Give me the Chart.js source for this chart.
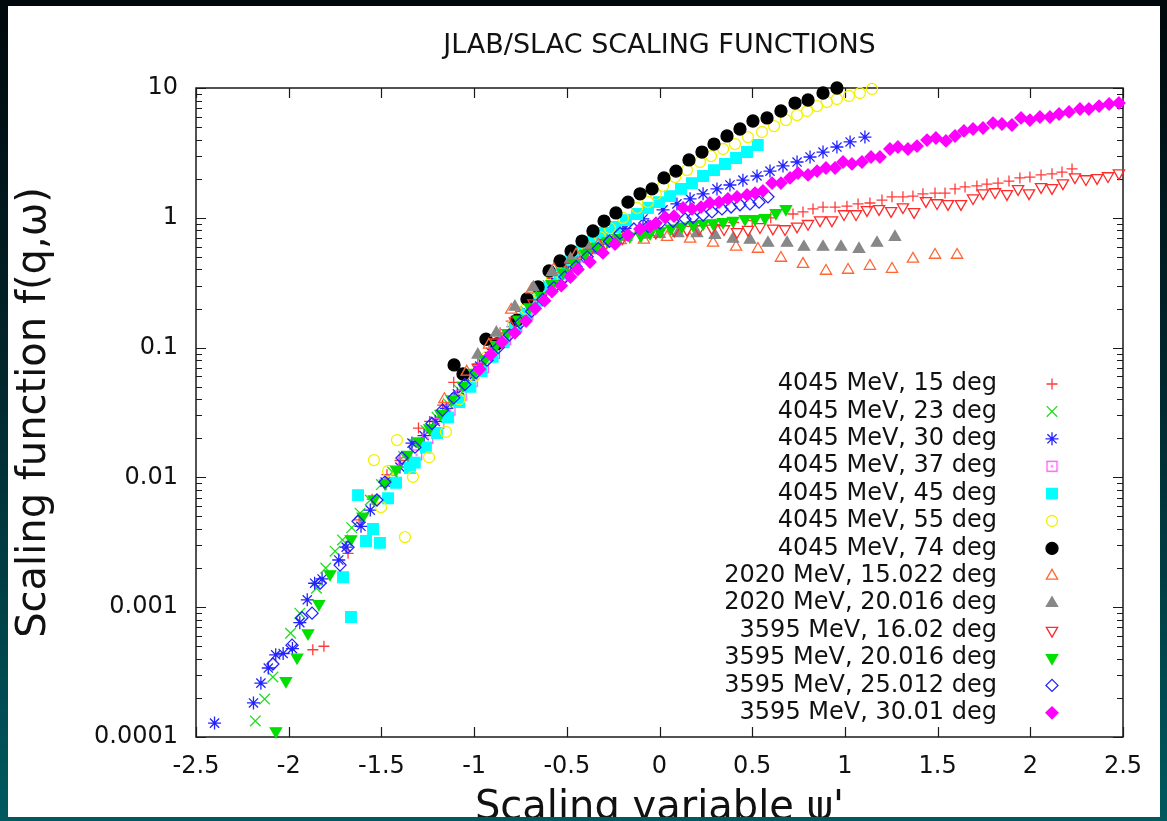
<!DOCTYPE html>
<html><head><meta charset="utf-8">
<script src="https://cdn.jsdelivr.net/npm/chart.js@4.4.1/dist/chart.umd.min.js"></script>
<style>
html,body{margin:0;padding:0;width:1167px;height:821px;overflow:hidden;}
body{background:linear-gradient(180deg,#00080c 0%,#01262c 45%,#005a60 100%);}
#frame{position:absolute;left:8px;top:6px;width:1152px;height:811px;overflow:hidden;background:#fff;}
#c{position:absolute;left:-8px;top:-6px;}
</style></head><body>
<div id="frame"><canvas id="c" width="1167" height="850"></canvas></div>
<script>
// ---------- axis ticks ----------
const xTickValues = [-2.5,-2,-1.5,-1,-0.5,0,0.5,1,1.5,2,2.5];
const xTickLabels = ['-2.5','-2','-1.5','-1','-0.5','0','0.5','1','1.5','2','2.5'];
const yDecades = [0.0001,0.001,0.01,0.1,1,10];
const yTickLabels = ['0.0001','0.001','0.01','0.1','1','10'];

// ---------- series labels ----------
const seriesLabels = [
  '4045 MeV, 15 deg','4045 MeV, 23 deg','4045 MeV, 30 deg','4045 MeV, 37 deg',
  '4045 MeV, 45 deg','4045 MeV, 55 deg','4045 MeV, 74 deg',
  '2020 MeV, 15.022 deg','2020 MeV, 20.016 deg',
  '3595 MeV, 16.02 deg','3595 MeV, 20.016 deg','3595 MeV, 25.012 deg','3595 MeV, 30.01 deg'
];

// ---------- data [psi', f] ----------
const e4045_15 = [[-1.87,0.00047],[-1.81,0.00050],[-1.68,0.0026],[-1.62,0.0047],[-1.55,0.0068],[-1.47,0.0105],[-1.40,0.0135],[-1.30,0.024],[-1.24,0.027],[-1.17,0.036],[-1.11,0.054],[-1.05,0.058],[-0.98,0.075],[-0.92,0.105],[-0.86,0.13],[-0.80,0.16],[-0.75,0.19],[-0.70,0.23],[-0.64,0.28],[-0.58,0.34],[-0.52,0.42],[-0.46,0.50],[-0.40,0.58],[-0.34,0.66],[-0.28,0.72],[-0.20,0.78],[-0.10,0.80],[0.0,0.83],[0.10,0.86],[0.20,0.87],[0.30,0.89],[0.40,0.92],[0.50,0.95],[0.60,1.0],
  [0.720,1.07],[0.774,1.11],[0.828,1.17],[0.882,1.21],[0.947,1.21],[1.011,1.23],[1.071,1.28],[1.135,1.30],[1.200,1.37],[1.254,1.45],[1.313,1.45],[1.367,1.47],[1.421,1.53],[1.486,1.55],[1.540,1.55],[1.594,1.67],[1.648,1.73],[1.712,1.76],[1.766,1.82],[1.826,1.85],[1.885,1.92],[1.944,2.03],[1.998,2.06],[2.058,2.14],[2.117,2.18],[2.171,2.25],[2.225,2.38]];
const e4045_23 = [[-2.18,0.000133],[-2.13,0.000196],[-2.085,0.00029],[-1.99,0.00063],[-1.94,0.00090],[-1.85,0.0014],[-1.80,0.0020],[-1.75,0.0027],[-1.71,0.0033],[-1.66,0.0041],[-1.615,0.0053],[-1.56,0.0067],[-1.50,0.0088],[-1.44,0.011],[-1.38,0.0145],[-1.32,0.018],[-1.26,0.023],[-1.20,0.029],[-1.14,0.037],[-1.08,0.047],[-1.02,0.060],[-0.96,0.077],[-0.90,0.097],[-0.84,0.12],[-0.78,0.15],[-0.72,0.19],[-0.66,0.24],[-0.60,0.30],[-0.54,0.37],[-0.48,0.44],[-0.42,0.52],[-0.36,0.59],[-0.30,0.65],[-0.24,0.70]];
const e4045_30 = [[-2.40,0.000128],[-2.19,0.000183],[-2.15,0.00026],[-2.11,0.00034],[-2.07,0.00043],[-2.03,0.00044],[-1.98,0.00048],[-1.94,0.00076],[-1.90,0.00114],[-1.86,0.00153],[-1.82,0.00165],[-1.73,0.00231],[-1.69,0.0029],[-1.61,0.0042],[-1.56,0.0056],[-1.48,0.0092],[-1.40,0.0120],[-1.335,0.0184],[-1.27,0.021],[-1.21,0.027],[-1.15,0.034],[-1.09,0.044],[-1.03,0.056],[-0.97,0.072],[-0.91,0.092],[-0.85,0.115],[-0.79,0.145],[-0.73,0.18],[-0.67,0.225],[-0.61,0.28],[-0.55,0.34],[-0.49,0.41],[-0.43,0.49],[-0.37,0.57],
  [-0.299,0.74],[-0.186,0.83],[-0.089,0.98],[0.019,1.15],[0.094,1.28],[0.165,1.40],[0.235,1.53],[0.310,1.67],[0.380,1.79],[0.450,1.95],[0.526,2.10],[0.596,2.29],[0.666,2.51],[0.742,2.69],[0.812,2.94],[0.882,3.21],[0.957,3.51],[1.028,3.84],[1.108,4.19]];
const e4045_37 = [[-1.45,0.0095],[-1.38,0.013],[-1.31,0.0149],[-1.25,0.020],[-1.19,0.026],[-1.13,0.033],[-1.07,0.043],[-1.01,0.055],[-0.95,0.07],[-0.89,0.09],[-0.83,0.115],[-0.77,0.145],[-0.71,0.18],[-0.65,0.23],[-0.59,0.28],[-0.53,0.35],[-0.47,0.42],[-0.41,0.50],[-0.35,0.58]];
const e4045_45 = [[-1.664,0.00084],[-1.707,0.0017],[-1.583,0.00324],[-1.508,0.00313],[-1.545,0.0040],[-1.626,0.0073],[-1.464,0.0069],[-1.421,0.0091],[-1.346,0.0118],[-1.32,0.013],[-1.26,0.017],[-1.20,0.022],[-1.14,0.029],[-1.08,0.038],[-1.02,0.05],[-0.96,0.066],[-0.90,0.085],[-0.84,0.11],[-0.78,0.14],[-0.72,0.18],[-0.66,0.23],[-0.60,0.29],[-0.54,0.37],[-0.48,0.47],[-0.42,0.56],[-0.36,0.66],
  [-0.299,0.764],[-0.240,0.85],[-0.181,0.96],[-0.121,1.07],[-0.062,1.19],[-0.003,1.32],[0.057,1.47],[0.116,1.67],[0.175,1.85],[0.235,2.10],[0.294,2.33],[0.353,2.60],[0.413,2.89],[0.472,3.21],[0.530,3.64]];
const e4045_55 = [[-1.373,0.00347],[-1.502,0.0059],[-1.540,0.0136],[-1.416,0.0194],[-1.464,0.0112],[-1.330,0.0101],[-1.243,0.0143],[-1.152,0.0224],[-1.08,0.040],[-1.00,0.060],[-0.93,0.085],[-0.86,0.115],[-0.79,0.15],[-0.72,0.20],[-0.65,0.26],[-0.58,0.34],[-0.51,0.43],[-0.45,0.52],[-0.39,0.60],
  [-0.321,0.71],[-0.267,0.83],[-0.197,1.0],[-0.121,1.19],[-0.062,1.32],[-0.02,1.52],[0.019,1.76],[0.084,2.06],[0.148,2.33],[0.218,2.69],[0.278,2.99],[0.343,3.39],[0.407,3.70],[0.477,4.19],[0.553,4.58],[0.618,5.09],[0.682,5.66],[0.742,6.19],[0.796,6.65],[0.850,7.26],[0.903,7.80],[0.957,8.23],[1.022,8.68],[1.081,9.15],[1.146,9.83]];
const e4045_74 = [[-1.108,0.0735],[-1.06,0.0626],[-0.936,0.116],[-0.877,0.107],[-0.769,0.163],[-0.715,0.237],[-0.655,0.293],[-0.596,0.389],[-0.537,0.465],[-0.477,0.555],[-0.418,0.662],[-0.359,0.791],[-0.299,0.944],[-0.235,1.09],[-0.170,1.32],[-0.105,1.53],[-0.040,1.67],[0.024,2.03],[0.089,2.29],[0.159,2.79],[0.229,3.21],[0.294,3.70],[0.364,4.27],[0.434,4.83],[0.504,5.57],[0.580,5.88],[0.655,6.65],[0.731,7.66],[0.801,8.08],[0.882,9.15],[0.957,10.0]];
const e2020_15 = [[-1.16,0.04],[-1.04,0.065],[-0.92,0.105],[-0.80,0.195],[-0.69,0.28],[-0.57,0.40],[-0.45,0.52],[-0.33,0.62],[-0.21,0.67],[-0.084,0.675],[0.041,0.71],[0.165,0.687],[0.289,0.64],[0.413,0.596],[0.531,0.575],[0.655,0.49],[0.774,0.44],[0.898,0.389],[1.017,0.396],[1.135,0.425],[1.254,0.403],[1.367,0.482],[1.486,0.517],[1.605,0.517]];
const e2020_20 = [[-0.98,0.088],[-0.88,0.13],[-0.78,0.206],[-0.68,0.29],[-0.58,0.38],[-0.48,0.48],[-0.38,0.58],[-0.28,0.66],[-0.18,0.71],[-0.08,0.74],[0.0,0.75],[0.100,0.76],[0.202,0.76],[0.299,0.736],[0.396,0.687],[0.488,0.675],[0.585,0.64],[0.688,0.64],[0.779,0.596],[0.882,0.596],[0.979,0.596],[1.076,0.575],[1.173,0.64],[1.270,0.71]];
const e3595_16 = [[-0.98,0.07],[-0.88,0.11],[-0.78,0.16],[-0.68,0.22],[-0.58,0.31],[-0.48,0.42],[-0.38,0.54],[-0.29,0.64],[-0.20,0.70],[-0.10,0.74],[-0.02,0.77],[0.08,0.80],
  [0.148,0.81],[0.213,0.82],[0.283,0.83],[0.348,0.82],[0.418,0.78],[0.477,0.81],[0.542,0.85],[0.612,0.83],[0.677,0.82],[0.742,0.86],[0.801,0.90],[0.866,0.96],[0.930,0.96],[0.995,1.07],[1.060,1.07],[1.119,1.15],[1.184,1.17],[1.249,1.13],[1.313,1.21],[1.373,1.11],[1.437,1.35],[1.497,1.30],[1.556,1.28],[1.626,1.28],[1.691,1.42],[1.745,1.55],[1.810,1.58],[1.874,1.53],[1.934,1.67],[1.993,1.55],[2.058,1.73],[2.117,1.70],[2.176,1.85],[2.241,2.06],[2.300,1.99],[2.360,2.03],[2.419,2.10],[2.478,2.21]];
const e3595_20 = [[-2.069,0.000111],[-2.015,0.00027],[-1.955,0.00041],[-1.896,0.00063],[-1.837,0.00106],[-1.777,0.0018],[-1.664,0.00335],[-1.60,0.0050],[-1.54,0.0068],[-1.48,0.0090],[-1.42,0.0115],[-1.36,0.0150],[-1.30,0.019],[-1.24,0.024],[-1.18,0.031],[-1.12,0.040],[-1.06,0.051],[-1.00,0.064],[-0.94,0.082],[-0.88,0.105],[-0.82,0.13],[-0.76,0.165],[-0.70,0.205],[-0.64,0.25],[-0.58,0.31],[-0.52,0.38],[-0.46,0.45],[-0.40,0.53],[-0.34,0.60],[-0.28,0.66],[-0.22,0.70],[-0.16,0.72],[-0.10,0.73],
  [-0.051,0.76],[0.003,0.79],[0.062,0.83],[0.121,0.86],[0.181,0.88],[0.235,0.90],[0.289,0.91],[0.343,0.93],[0.397,0.95],[0.461,0.98],[0.515,0.98],[0.569,1.0],[0.628,1.09],[0.682,1.17]];
const e3595_25 = [[-2.085,0.000365],[-1.982,0.00051],[-1.928,0.00083],[-1.874,0.00090],[-1.831,0.00153],[-1.723,0.00211],[-1.680,0.0029],[-1.626,0.0046],[-1.524,0.0067],[-1.481,0.0092],[-1.389,0.0141],[-1.319,0.0171],[-1.227,0.026],[-1.17,0.033],[-1.11,0.041],[-1.05,0.052],[-0.99,0.064],[-0.93,0.08],[-0.87,0.10],[-0.81,0.125],[-0.75,0.155],[-0.69,0.19],[-0.63,0.235],[-0.57,0.29],[-0.51,0.35],[-0.45,0.42],[-0.39,0.50],[-0.33,0.58],[-0.27,0.66],
  [-0.213,0.76],[-0.138,0.82],[-0.062,0.86],[0.003,0.91],[0.073,0.94],[0.138,0.98],[0.181,1.01],[0.235,1.05],[0.283,1.11],[0.337,1.17],[0.386,1.21],[0.434,1.26],[0.488,1.28],[0.537,1.32],[0.585,1.45]];
const e3595_30 = [[-0.97,0.068],[-0.91,0.088],[-0.85,0.11],[-0.78,0.13],[-0.72,0.16],[-0.67,0.20],[-0.62,0.23],[-0.58,0.27],[-0.53,0.30],[-0.48,0.35],[-0.44,0.40],[-0.375,0.456],[-0.305,0.536],[-0.24,0.628],[-0.17,0.736],[-0.105,0.82],[-0.05,0.86],
  [-0.019,0.91],[0.030,1.01],[0.078,1.03],[0.127,1.19],[0.175,1.17],[0.224,1.21],[0.272,1.30],[0.321,1.32],[0.369,1.40],[0.418,1.45],[0.472,1.50],[0.515,1.55],[0.558,1.61],[0.607,1.85],[0.655,1.85],[0.704,2.03],[0.747,2.21],[0.801,2.14],[0.850,2.29],[0.898,2.42],[0.947,2.42],[0.990,2.69],[1.038,2.60],[1.092,2.69],[1.141,2.94],[1.189,2.94],[1.243,3.39],[1.286,3.51],[1.340,3.39],[1.389,3.57],[1.443,3.97],[1.491,4.12],[1.545,3.91],[1.594,4.27],[1.642,4.67],[1.691,4.83],[1.745,4.92],[1.799,5.37],[1.847,5.28],[1.901,5.19],[1.950,5.88],[1.998,5.66],[2.052,5.98],[2.106,5.98],[2.155,6.31],[2.209,6.54],[2.268,6.89],[2.316,6.89],[2.371,7.26],[2.425,7.53],[2.478,7.66]];

const seriesData = [e4045_15,e4045_23,e4045_30,e4045_37,e4045_45,e4045_55,e4045_74,e2020_15,e2020_20,e3595_16,e3595_20,e3595_25,e3595_30];

// ---------- marker styles ----------
function dotSquare(color){
  const c=document.createElement('canvas'); c.width=13; c.height=13;
  const g=c.getContext('2d'); g.strokeStyle=color; g.lineWidth=1.2;
  g.strokeRect(1.5,1.5,10,10); g.fillStyle=color; g.fillRect(5.5,5.5,2,2); return c;
}
const markerStyles = [
  {style:'cross',   color:'#ff3a3a', fill:false, r:5.5, rot:0},
  {style:'crossRot',color:'#22dd22', fill:false, r:7.5, rot:0},
  {style:'star',    color:'#2323ff', fill:false, r:6.5, rot:0},
  {style:dotSquare('#ff44ff'), color:'#ff44ff', fill:false, r:6, rot:0},
  {style:'rect',    color:'#00ffff', fill:true,  r:7.5, rot:0},
  {style:'circle',  color:'#f2f200', fill:false, r:5.5, rot:0},
  {style:'circle',  color:'#000000', fill:true,  r:6,   rot:0},
  {style:'triangle',color:'#ff6633', fill:false, r:6.5, rot:0},
  {style:'triangle',color:'#888888', fill:true,  r:6.5, rot:0},
  {style:'triangle',color:'#ff2a2a', fill:false, r:6.5, rot:180},
  {style:'triangle',color:'#00e000', fill:true,  r:6.5, rot:180},
  {style:'rectRot', color:'#2323ff', fill:false, r:6,   rot:0},
  {style:'rectRot', color:'#ff00ff', fill:true,  r:6,   rot:0}
];

const datasets = seriesData.map((d,i)=>{
  const m = markerStyles[i];
  return {
    label: seriesLabels[i],
    data: d.map(p=>({x:p[0], y:p[1]})),
    pointStyle: m.style, pointRadius: m.r, pointRotation: m.rot,
    pointBackgroundColor: m.fill ? m.color : 'rgba(0,0,0,0)',
    pointBorderColor: m.color, pointBorderWidth: 1.3,
    backgroundColor: m.fill ? m.color : 'rgba(0,0,0,0)', borderColor: m.color,
    showLine:false, clip:false, order: 20 - i
  };
});

Chart.defaults.font.family = "'DejaVu Sans', sans-serif";
Chart.defaults.color = '#111';

const framePlugin = {
  id:'frame',
  beforeDatasetsDraw(chart){
    const ctx=chart.ctx, a=chart.chartArea, xs=chart.scales.x, ys=chart.scales.y;
    ctx.save();
    ctx.strokeStyle='#1a1a1a'; ctx.lineWidth=1.5;
    ctx.strokeRect(a.left,a.top,a.right-a.left,a.bottom-a.top);
    ctx.lineWidth=1.2;
    ctx.beginPath();
    xTickValues.forEach(v=>{
      const px=Math.round(xs.getPixelForValue(v))+0.5;
      ctx.moveTo(px,a.bottom); ctx.lineTo(px,a.bottom-10);
      ctx.moveTo(px,a.top); ctx.lineTo(px,a.top+10);
    });
    for(let e=-4;e<=1;e++){
      for(let m=1;m<=9;m++){
        const v=m*Math.pow(10,e); if(v>10.0001) break;
        const py=Math.round(ys.getPixelForValue(v))+0.5;
        const len = m===1?10:6;
        ctx.moveTo(a.left,py); ctx.lineTo(a.left+len,py);
        ctx.moveTo(a.right,py); ctx.lineTo(a.right-len,py);
      }
    }
    ctx.stroke();
    ctx.restore();
  }
};

const legendPlugin = {
  id:'gpLegend',
  afterDraw(chart){
    const ctx=chart.ctx, a=chart.chartArea;
    const textRight=a.right-126, symX=a.right-71, top0=a.top+296, step=27.4;
    ctx.save();
    chart.data.datasets.forEach((ds,i)=>{
      const y=top0+i*step;
      ctx.font="24px 'DejaVu Sans'"; ctx.textAlign='right'; ctx.textBaseline='middle';
      ctx.fillStyle='#111';
      ctx.fillText(ds.label,textRight,y);
      ctx.fillStyle=ds.pointBackgroundColor; ctx.strokeStyle=ds.pointBorderColor; ctx.lineWidth=1.3;
      if (Chart.helpers && Chart.helpers.drawPoint) {
        Chart.helpers.drawPoint(ctx,{pointStyle:ds.pointStyle,rotation:ds.pointRotation,radius:ds.pointRadius,borderWidth:1.3},symX,y);
      }
    });
    ctx.restore();
  }
};

new Chart(document.getElementById('c'),{
  type:'scatter',
  data:{datasets},
  options:{
    responsive:false, animation:false, devicePixelRatio:1,
    layout:{padding:{left:0,right:44,top:0,bottom:0}},
    plugins:{
      legend:{display:false}, tooltip:{enabled:false},
      title:{display:true,fullSize:false,text:'JLAB/SLAC SCALING FUNCTIONS',color:'#111',font:{size:27,weight:'normal'},padding:{top:30,bottom:25.6}}
    },
    scales:{
      x:{
        type:'linear', min:-2.5, max:2.5,
        grid:{display:false,drawTicks:false}, border:{display:false},
        afterBuildTicks:s=>{ s.ticks = xTickValues.map(v=>({value:v})); },
        afterFit:s=>{ s.height = 113; },
        ticks:{autoSkip:false,maxRotation:0,padding:15,color:'#111',font:{size:24},
          callback:(v)=>{ const i=xTickValues.findIndex(t=>Math.abs(t-v)<1e-9); return i>=0?xTickLabels[i]:''; }},
        title:{display:true,text:"Scaling variable \u03c8'",color:'#111',font:{size:40},padding:{top:0,bottom:17}}
      },
      y:{
        type:'logarithmic', min:0.0001, max:10,
        grid:{display:false,drawTicks:false}, border:{display:false},
        afterBuildTicks:s=>{ s.ticks = yDecades.map(v=>({value:v,major:true})); },
        afterFit:s=>{ s.width = 196; },
        ticks:{autoSkip:false,padding:18,color:'#111',font:{size:24},
          callback:(v)=>{ const i=yDecades.findIndex(t=>Math.abs(t-v)/t<1e-6); return i>=0?yTickLabels[i]:''; }},
        title:{display:true,text:'Scaling function f(q,\u03c9)',color:'#111',font:{size:40},padding:{top:11,bottom:0}}
      }
    }
  },
  plugins:[framePlugin,legendPlugin]
});
</script></body></html>
